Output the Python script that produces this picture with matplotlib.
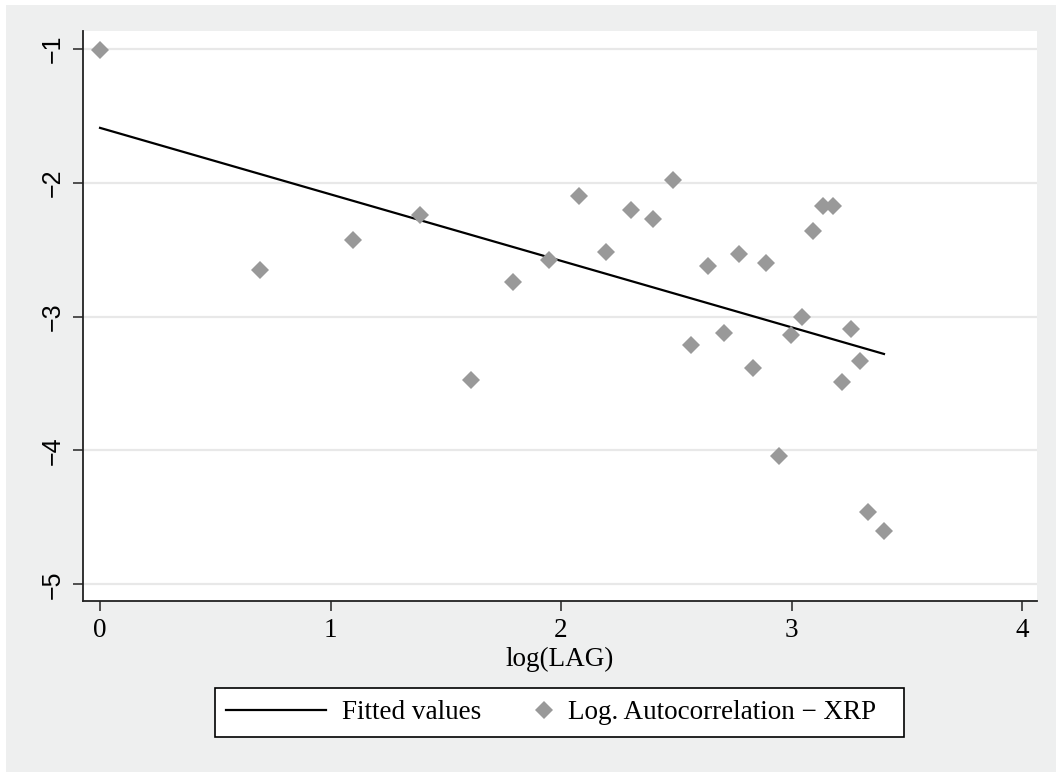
import matplotlib
matplotlib.use("Agg")
import matplotlib.pyplot as plt
from matplotlib.legend_handler import HandlerLine2D
from matplotlib.patches import Rectangle
import numpy as np

# log(LAG) and log autocorrelation of XRP
log_lag = [0.0, 0.693, 1.099, 1.386, 1.609, 1.792, 1.946, 2.079, 2.197, 2.303,
           2.398, 2.485, 2.565, 2.639, 2.708, 2.773, 2.833, 2.890, 2.944, 2.996,
           3.045, 3.091, 3.135, 3.178, 3.219, 3.258, 3.296, 3.332, 3.401]
log_acf = [-1.01, -2.65, -2.43, -2.24, -3.47, -2.74, -2.58, -2.10, -2.52, -2.20,
           -2.27, -1.98, -3.21, -2.62, -3.12, -2.53, -3.38, -2.60, -4.04, -3.14,
           -3.00, -2.36, -2.17, -2.17, -3.49, -3.09, -3.33, -4.46, -4.60]
x_ticks = [0, 1, 2, 3, 4]
y_ticks = [-1, -2, -3, -4, -5]

serif = "Liberation Serif"
sans = "Liberation Sans"
fs = 19.5
W, H = 1056, 772


class WideLineHandler(HandlerLine2D):
    """line handle wider than the marker handle"""
    def __init__(self, width_pt, **kw):
        super().__init__(**kw)
        self.width_pt = width_pt

    def legend_artist(self, legend, orig_handle, fontsize, handlebox):
        handlebox.width = self.width_pt
        return super().legend_artist(legend, orig_handle, fontsize, handlebox)


fig = plt.figure(figsize=(W / 100, H / 100), dpi=100, facecolor="white")
# stata-ish grey background
fig.patches.append(Rectangle((6 / W, 0), 1, 1 - 5 / H, transform=fig.transFigure,
                             facecolor="#eeefef", edgecolor="none", zorder=-10))

ax = fig.add_axes([83 / W, 1 - 601 / H, (1037 - 83) / W, (601 - 31) / H])
ax.set_facecolor("white")

# OLS fit
x = np.array(log_lag)
y = np.array(log_acf)
slope, intercept = np.polyfit(x, y, 1)
xs = np.sort(x)
line, = ax.plot(xs, intercept + slope * xs, color="black", lw=1.6, zorder=3,
                label="Fitted values")
pts, = ax.plot(x, y, linestyle="none", marker="D", markersize=9.3,
               color="#999999", markeredgewidth=0, zorder=4,
               label="Log. Autocorrelation \u2212 XRP")

ax.set_xlim(-0.074, 4.065)
ax.set_ylim(-5.125, -0.865)
ax.set_xticks(x_ticks)
ax.set_yticks(y_ticks)
ax.set_xticklabels([str(t) for t in x_ticks], fontfamily=serif, fontsize=fs)
ax.set_yticklabels([str(t).replace("-", "\u2212") for t in y_ticks],
                   fontfamily=sans, fontsize=18, rotation=90, va="center")
ax.tick_params(axis="both", direction="out", length=7, width=1.2, color="#333333")
ax.tick_params(axis="y", pad=6)
ax.tick_params(axis="x", pad=5)

ax.grid(axis="y", color="#e8e8e8", lw=1.6)
ax.set_axisbelow(True)
for side in ["top", "right"]:
    ax.spines[side].set_visible(False)
for side in ["left", "bottom"]:
    ax.spines[side].set_linewidth(1.3)
    ax.spines[side].set_color("#222222")

ax.set_xlabel("log(LAG)", fontfamily=serif, fontsize=fs, labelpad=3)

# legend box (stata leaves extra room on the right)
fig.patches.append(Rectangle((215 / W, 1 - 737 / H), (904 - 215) / W, 49 / H,
                             transform=fig.transFigure, facecolor="white",
                             edgecolor="black", lw=1.2, zorder=1))
leg = fig.legend(handles=[line, pts], loc="center left",
                 bbox_to_anchor=(215 / W, 1 - 712.5 / H), ncol=2,
                 prop={"family": serif, "size": fs}, frameon=False,
                 handlelength=0.54, handletextpad=0.59,
                 columnspacing=2.05, borderpad=0.42, borderaxespad=0,
                 handler_map={line: WideLineHandler(72)})

fig.savefig("out.png", dpi=100, facecolor=fig.get_facecolor())
